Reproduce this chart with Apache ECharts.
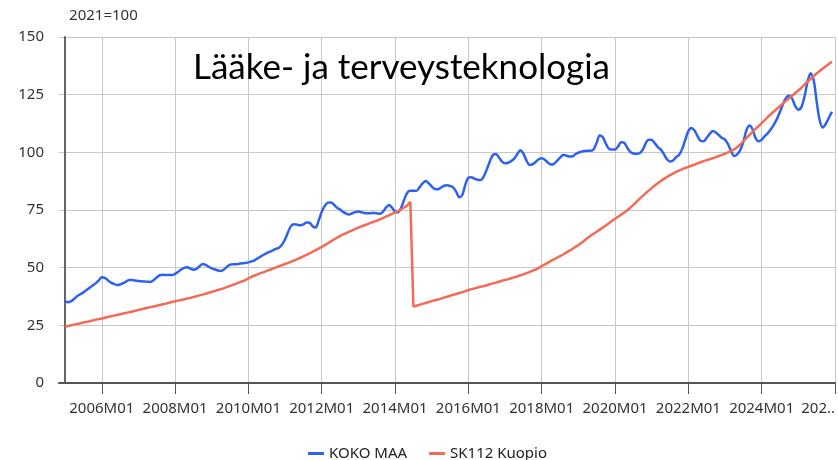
<!DOCTYPE html>
<html>
<head>
<meta charset="utf-8">
<script src="https://cdn.jsdelivr.net/npm/echarts@6/dist/echarts.min.js"></script>
<style>
html, body { margin: 0; padding: 0; background: #fff; }
#chart { width: 838px; height: 460px; }
</style>
</head>
<body>
<div id="chart"></div>
<script>
// monthly index, 2021=100, starting 2005M01
var startYear = 2005;
var kokoMaa = [
    35.5, 35, 35.5, 36.5, 37.7, 38.5, 39.3, 40.3, 41.3, 42.3, 43.2, 44.5,
    45.8, 45.6, 44.5, 43.5, 43, 42.5, 42.7, 43.3, 44, 44.6, 44.6, 44.4,
    44.2, 44.1, 44, 43.9, 43.8, 44.6, 45.8, 46.7, 46.9, 46.8, 46.8, 46.8,
    47.3, 48.2, 49.2, 49.9, 50.2, 49.6, 49.1, 49.5, 50.6, 51.6, 51.2, 50.4,
    49.7, 49.2, 48.8, 48.6, 49.2, 50.4, 51.3, 51.5, 51.5, 51.7, 51.9, 52.0,
    52.3, 52.7, 53.2, 54, 54.8, 55.6, 56.3, 56.9, 57.5, 58.2, 58.6, 60,
    62.3, 65.5, 68.2, 68.8, 68.6, 68.4, 68.8, 69.6, 69.5, 68, 67.4, 70.5,
    74.2, 76.8, 78.2, 78.3, 77.3, 76, 75.2, 74.2, 73.4, 73, 73.6, 74.1,
    74.3, 74, 73.7, 73.6, 73.6, 73.7, 73.6, 73.4, 74.2, 76, 77.2, 76,
    74.4, 74, 76, 79.5, 82.5, 83.3, 83.3, 83.3, 84.8, 86.5, 87.6, 86.6,
    85.2, 84.1, 84, 84.7, 85.5, 85.7, 85.4, 84.8, 83, 80.5, 81.5, 86,
    89, 89.2, 88.6, 88.1, 88, 89.5, 92.5, 96, 98.8, 99.3, 97.8, 96,
    95.3, 95.5, 96.2, 97.3, 99.2, 100.9, 99.5, 96.5, 94.6, 94.8, 95.8, 97,
    97.4, 96.8, 95.6, 94.7, 95, 96.3, 97.7, 98.8, 98.6, 98.2, 98.2, 99.2,
    99.9, 100.3, 100.6, 100.7, 100.7, 101.3, 104.3, 107.3, 106.5, 103.8, 101.5, 101.2,
    101.2, 102.6, 104.4, 104.2, 102, 100.2, 99.5, 99.4, 99.6, 101, 103.8, 105.5,
    105.4, 104, 102.3, 101.2, 99.2, 97, 96, 96.5, 97.9, 99, 101.5, 105.5,
    109.2, 110.6, 109.5, 107, 105, 104.8, 106.3, 108, 109.2, 108.6, 107.4, 106.2,
    105.5, 103.5, 100.5, 98.4, 99.1, 101, 104.5, 109.5, 111.6, 110, 106.2, 104.8,
    105.5, 107, 108.3, 110, 112, 114.5, 117.6, 121, 123.7, 124.5, 123.2, 120,
    118.5, 119.6, 124, 130.5, 134.3, 131.5, 122, 113.8, 110.8, 112.4, 115, 117.6
];
var kuopio = [
    24.4, 24.7, 25.0, 25.3, 25.6, 25.9, 26.2, 26.5, 26.8, 27.1, 27.4, 27.7,
    28.0, 28.3, 28.6, 28.9, 29.2, 29.5, 29.8, 30.1, 30.4, 30.7, 31.0, 31.3,
    31.7, 32.0, 32.3, 32.6, 32.9, 33.2, 33.5, 33.8, 34.1, 34.4, 34.8, 35.1,
    35.4, 35.7, 36.0, 36.3, 36.6, 36.9, 37.3, 37.6, 38.0, 38.3, 38.7, 39.1,
    39.5, 39.9, 40.3, 40.7, 41.1, 41.6, 42.1, 42.6, 43.1, 43.6, 44.1, 44.6,
    45.4, 46.0, 46.6, 47.1, 47.6, 48.1, 48.6, 49.1, 49.6, 50.1, 50.6, 51.1,
    51.6, 52.1, 52.6, 53.1, 53.7, 54.3, 54.9, 55.5, 56.2, 56.9, 57.6, 58.3,
    59.0, 59.8, 60.6, 61.4, 62.2, 63.0, 63.7, 64.4, 65.0, 65.6, 66.2, 66.8,
    67.4, 67.9, 68.4, 68.9, 69.4, 69.9, 70.4, 70.9, 71.5, 72.1, 72.7, 73.3,
    74.0, 74.6, 75.3, 76.1, 77.0, 78.6, 33.1, 33.5, 33.9, 34.3, 34.7, 35.1,
    35.5, 35.9, 36.2, 36.6, 37.0, 37.4, 37.8, 38.2, 38.6, 39.0, 39.4, 39.8,
    40.3, 40.7, 41.0, 41.4, 41.7, 42.0, 42.4, 42.8, 43.2, 43.5, 43.9, 44.3,
    44.7, 45.0, 45.4, 45.8, 46.2, 46.7, 47.1, 47.6, 48.1, 48.7, 49.2, 49.8,
    50.7, 51.4, 52.1, 52.9, 53.6, 54.3, 55.0, 55.7, 56.5, 57.3, 58.1, 59.0,
    59.8, 60.7, 61.8, 62.9, 63.8, 64.7, 65.6, 66.5, 67.4, 68.3, 69.3, 70.3,
    71.2, 72.1, 73.0, 73.9, 74.9, 76.0, 77.2, 78.5, 79.8, 81.0, 82.2, 83.4,
    84.5, 85.6, 86.6, 87.6, 88.5, 89.3, 90.1, 90.8, 91.5, 92.1, 92.7, 93.2,
    93.7, 94.2, 94.7, 95.2, 95.7, 96.2, 96.6, 97.0, 97.5, 97.9, 98.4, 98.9,
    99.4, 100.0, 100.6, 101.3, 102.2, 103.4, 104.8, 106.2, 107.6, 108.9, 110.2, 111.4,
    112.7, 114.0, 115.3, 116.5, 117.7, 118.9, 120.1, 121.2, 122.4, 123.5, 124.6, 125.7,
    126.8, 127.9, 129.4, 130.6, 131.8, 133.0, 134.2, 135.3, 136.3, 137.3, 138.3, 139.3
];
var seriesNames = ['KOKO MAA', 'SK112 Kuopio'];
var tickYears = [2006, 2008, 2010, 2012, 2014, 2016, 2018, 2020, 2022, 2024, 2026];

function monthPos(year) { return (year - startYear) * 12; }
function toPoints(arr) { return arr.map(function (v, i) { return [i, v]; }); }

var tickPos = tickYears.map(monthPos);
var lastPos = tickPos[tickPos.length - 1];
var labelFont = '"Noto Sans", sans-serif';

var myChart = echarts.init(document.getElementById('chart'));
var option = {
    animation: false,
    backgroundColor: '#fff',
    title: {
        text: 'Lääke- ja terveysteknologia',
        left: 188,
        top: 45,
        textStyle: { fontFamily: 'Lato, sans-serif', fontSize: 35, fontWeight: 'normal', color: '#000' }
    },
    legend: {
        data: seriesNames,
        left: 303,
        top: 441,
        icon: 'rect',
        itemWidth: 16,
        itemHeight: 3,
        itemGap: 22,
        textStyle: { fontFamily: labelFont, fontSize: 15, color: '#222' }
    },
    grid: { left: 59, right: -3, top: 37, bottom: 77, containLabel: false },
    xAxis: {
        type: 'value',
        min: -2,
        max: lastPos,
        axisLine: { show: true, lineStyle: { color: '#555', width: 2 } },
        axisTick: { show: true, customValues: tickPos, length: 11, lineStyle: { color: '#555' } },
        axisLabel: {
            customValues: tickPos,
            margin: 18,
            fontFamily: labelFont,
            fontSize: 15,
            color: '#333',
            alignMaxLabel: 'right',
            formatter: function (v) {
                var y = startYear + Math.floor(v / 12);
                // last label is cut by the right edge of the picture
                return v === lastPos ? '202..' : y + 'M01';
            }
        },
        splitLine: { show: true, lineStyle: { color: '#c8c8c8' } }
    },
    yAxis: {
        type: 'value',
        min: 0,
        max: 150,
        interval: 25,
        name: '2021=100',
        nameLocation: 'end',
        nameGap: 14,
        nameTextStyle: { fontFamily: labelFont, fontSize: 15, color: '#333', align: 'left', padding: [0, 0, 0, 4] },
        axisLine: { show: true, lineStyle: { color: '#666', width: 2 } },
        axisTick: { show: false },
        axisLabel: { fontFamily: labelFont, fontSize: 15, color: '#333', margin: 15 },
        splitLine: { lineStyle: { color: '#c8c8c8' } }
    },
    series: [
        {
            name: seriesNames[0],
            type: 'line',
            data: toPoints(kokoMaa),
            symbol: 'none',
            smooth: 0.3,
            lineStyle: { color: '#2e62ee', width: 2.5 },
            itemStyle: { color: '#2e62ee' }
        },
        {
            name: seriesNames[1],
            type: 'line',
            data: toPoints(kuopio),
            symbol: 'none',
            lineStyle: { color: '#f26b55', width: 2.5 },
            itemStyle: { color: '#f26b55' }
        }
    ]
};
myChart.setOption(option);
</script>
</body>
</html>
